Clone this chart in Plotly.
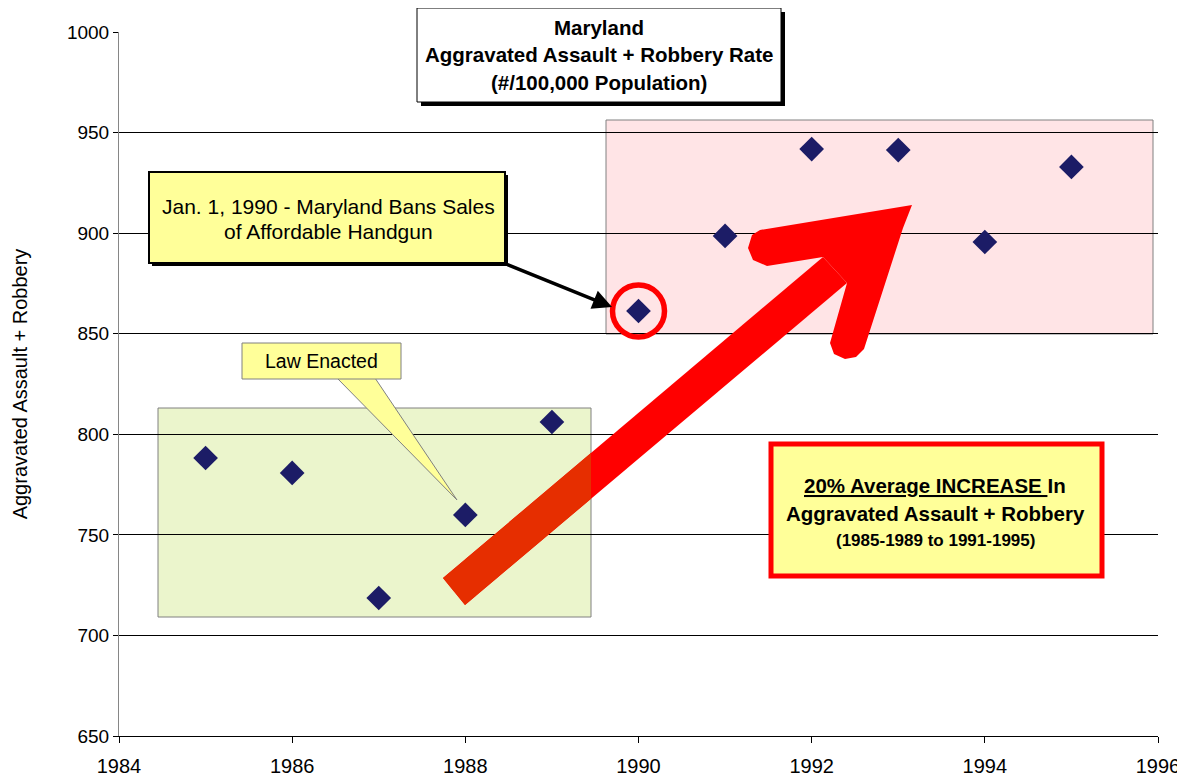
import plotly.graph_objects as go

# ---- data ----
years = [1985, 1986, 1987, 1988, 1989, 1990, 1991, 1992, 1993, 1994, 1995]
rates = [788.2, 780.8, 718.6, 759.9, 806.1, 861.3, 898.6, 941.8, 941.3, 895.6, 932.9]
x_ticks = [1984, 1986, 1988, 1990, 1992, 1994, 1996]
y_ticks = [650, 700, 750, 800, 850, 900, 950, 1000]
ban_year = 1990

# ---- geometry helpers (screen pixel -> data / paper) ----
OFF = 8  # page body margin
W, H = 1185 - OFF, 778 - OFF
L, R, T, B = 119, 1158, 32, 736  # plot area in screen pixels
X0, X1, Y0, Y1 = 1984, 1996, 650, 1000


def dx(px):
    return X0 + (px - L) / (R - L) * (X1 - X0)


def dy(py):
    return Y1 - (py - T) / (B - T) * (Y1 - Y0)


def xp(px):
    return (px - L) / (R - L)


def yp(py):
    return (B - py) / (B - T)


def path(pts):
    return "M " + " L ".join(f"{dx(a)},{dy(b)}" for a, b in pts) + " Z"


def clip_x(poly, xmax):
    out = []
    n = len(poly)
    for i in range(n):
        a, b = poly[i], poly[(i + 1) % n]
        ina, inb = a[0] <= xmax, b[0] <= xmax
        if ina:
            out.append(a)
        if ina != inb:
            t = (xmax - a[0]) / (b[0] - a[0])
            out.append((xmax, a[1] + t * (b[1] - a[1])))
    return out


YELLOW = "#ffff99"
FONT = "Liberation Sans, Arial, sans-serif"

fig = go.Figure()

fig.add_trace(go.Scatter(
    x=years, y=rates, mode="markers",
    marker=dict(symbol="diamond", size=19, color="#1c1c66"),
    showlegend=False, hoverinfo="x+y"))

# red ring around the ban year point
fig.add_trace(go.Scatter(
    x=[ban_year], y=[rates[years.index(ban_year)]], mode="markers",
    marker=dict(symbol="circle-open", size=52, color="#ff0000",
                line=dict(width=5.5, color="#ff0000")),
    showlegend=False, hoverinfo="skip"))

shapes = []
# background period boxes
shapes.append(dict(type="rect", xref="x", yref="y", x0=dx(158), x1=dx(591), y0=dy(617), y1=dy(408),
                   fillcolor="#ebf5cc", line=dict(color="#808080", width=1), layer="below"))
shapes.append(dict(type="rect", xref="x", yref="y", x0=dx(606), x1=dx(1153), y0=dy(334), y1=dy(120),
                   fillcolor="#ffe4e6", line=dict(color="#808080", width=1), layer="below"))

# title box with shadow
shapes.append(dict(type="rect", xref="paper", yref="paper", x0=xp(421), x1=xp(785), y0=yp(106), y1=yp(12),
                   fillcolor="#000000", line=dict(width=0), layer="above"))
shapes.append(dict(type="rect", xref="paper", yref="paper", x0=xp(417), x1=xp(781), y0=yp(102), y1=yp(8),
                   fillcolor="#ffffff", line=dict(color="#000000", width=1), layer="above"))

# Jan 1990 box with shadow
shapes.append(dict(type="rect", xref="paper", yref="paper", x0=xp(152), x1=xp(508), y0=yp(266), y1=yp(175),
                   fillcolor="#000000", line=dict(width=0), layer="above"))
shapes.append(dict(type="rect", xref="paper", yref="paper", x0=xp(149), x1=xp(505), y0=yp(263), y1=yp(172),
                   fillcolor=YELLOW, line=dict(color="#000000", width=2), layer="above"))

# Law enacted callout
shapes.append(dict(type="path", xref="x", yref="y", path=path([(337, 378), (375, 378), (457, 500)]),
                   fillcolor=YELLOW, line=dict(color="#808080", width=1), layer="above"))
shapes.append(dict(type="rect", xref="paper", yref="paper", x0=xp(242), x1=xp(401), y0=yp(379), y1=yp(343),
                   fillcolor=YELLOW, line=dict(color="#808080", width=1), layer="above"))

# increase box
shapes.append(dict(type="rect", xref="paper", yref="paper", x0=xp(771), x1=xp(1102), y0=yp(576), y1=yp(444),
                   fillcolor=YELLOW, line=dict(color="#ff0000", width=5), layer="above"))

# big red arrow
shaft = [(443, 578), (823, 257), (847, 283), (465, 605)]
shapes.append(dict(type="path", xref="x", yref="y", path=path(shaft),
                   fillcolor="#ff0000", line=dict(width=0), layer="above"))
shapes.append(dict(type="path", xref="x", yref="y", path=path(clip_x(shaft, 591)),
                   fillcolor="#e62e00", line=dict(width=0), layer="above"))
head = [(912, 205), (760, 230), (752, 235), (748, 248), (753, 260), (767, 266), (823, 257),
        (847, 283), (830, 343), (834, 354), (845, 359), (856, 357), (864, 349), (903, 228)]
shapes.append(dict(type="path", xref="x", yref="y", path=path(head),
                   fillcolor="#ff0000", line=dict(width=0), layer="above"))

annotations = []


def txt(text, cx, cy, size, bold=False):
    annotations.append(dict(
        xref="paper", yref="paper", x=xp(cx), y=yp(cy), xanchor="center", yanchor="middle",
        text=f"<b>{text}</b>" if bold else text, showarrow=False,
        font=dict(family=FONT, size=size, color="#000000")))


txt("Maryland", 599, 27, 20.5, True)
txt("Aggravated Assault + Robbery Rate", 599, 54, 20.5, True)
txt("(#/100,000 Population)", 599, 82, 20.5, True)

txt("Jan. 1, 1990 - Maryland Bans Sales", 328, 207, 21)
txt("of Affordable Handgun", 328, 232, 21)

txt("Law Enacted", 321, 361, 19.5)

txt('<span style="text-decoration:underline">20% Average INCREASE </span>In', 935, 485, 20.5, True)
txt("Aggravated Assault + Robbery", 935, 513, 20.5, True)
txt("(1985-1989 to 1991-1995)", 935, 540, 17, True)

# black pointer arrow from Jan box to 1990 point
annotations.append(dict(
    xref="x", yref="y", x=dx(612), y=dy(307), axref="x", ayref="y", ax=dx(506), ay=dy(264),
    text="", showarrow=True, arrowhead=2, arrowsize=1.1, arrowwidth=3.5, arrowcolor="#000000"))

fig.update_layout(
    width=W, height=H,
    margin=dict(l=L - OFF, r=W - (R - OFF), t=T - OFF, b=H - (B - OFF), autoexpand=False),
    paper_bgcolor="#ffffff", plot_bgcolor="#ffffff",
    shapes=shapes, annotations=annotations,
    font=dict(family=FONT, color="#000000"),
    xaxis=dict(range=[X0, X1], tickvals=x_ticks, ticktext=[str(v) for v in x_ticks],
               automargin=False, ticklabeloverflow="allow",
               showgrid=False, zeroline=False, showline=True, linecolor="#000000", linewidth=1,
               ticks="outside", ticklen=6, tickcolor="#000000", ticklabelstandoff=6,
               tickfont=dict(family=FONT, size=20, color="#000000")),
    yaxis=dict(range=[Y0, Y1], tickvals=y_ticks, showgrid=True, gridcolor="#000000", gridwidth=1,
               automargin=False, ticklabeloverflow="allow",
               zeroline=False, showline=True, linecolor="#868686", linewidth=1,
               ticks="outside", ticklen=5, tickcolor="#000000",
               tickfont=dict(family=FONT, size=19, color="#000000"),
               title=dict(text="Aggravated Assault + Robbery", standoff=33,
                          font=dict(family=FONT, size=20, color="#000000"))),
    showlegend=False,
)

fig.write_html("out.html")
